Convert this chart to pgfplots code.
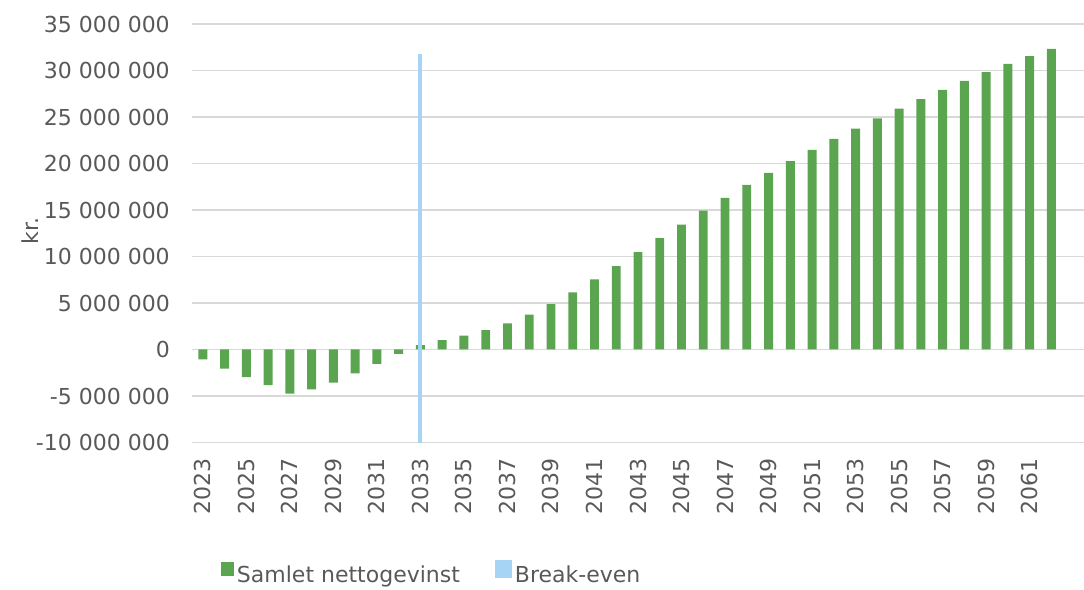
\documentclass[border=0pt]{standalone}
\usepackage{pgfplots}
\pgfplotsset{compat=1.18}
\usepackage{fontspec}
\setmainfont{DejaVu Sans}

\definecolor{bargreen}{RGB}{91,165,81}
\definecolor{beblue}{RGB}{165,212,245}
\definecolor{txtgray}{RGB}{89,89,89}
\definecolor{gridgray}{RGB}{217,217,217}

\begin{document}
\begin{tikzpicture}
\fontsize{22}{26}\selectfont
\begin{axis}[
  at={(192pt,146.5pt)}, anchor=south west,
  scale only axis,
  width=892pt, height=418.5pt,
  xmin=2022.5, xmax=2063.5,
  ymin=-10000000, ymax=35000000,
  ytick={-10000000,-5000000,...,35000000},
  xtick={2023,2025,...,2061},
  scaled y ticks=false,
  axis line style={draw=none},
  major tick length=0pt,
  ymajorgrids,
  major grid style={draw=gridgray, line width=1.8pt},
  ticklabel style={font=\fontsize{22}{26}\selectfont, text=txtgray, inner sep=0pt},
  xticklabel style={rotate=90, anchor=east,
    /pgf/number format/.cd, 1000 sep={}, assume math mode=true},
  xticklabel shift=16pt,
  yticklabel style={anchor=east,
    /pgf/number format/.cd, fixed, precision=0, 1000 sep={\ }, assume math mode=true},
  yticklabel shift=22pt,
  ylabel={kr.},
  ylabel style={at={(rel axis cs:-0.1816,0.505)}, rotate=0, anchor=center,
    inner sep=0pt, font=\fontsize{22}{26}\selectfont, text=txtgray},
  legend columns=2,
  legend style={draw=none, fill=none, inner sep=0pt, outer sep=0pt,
    at={(rel axis cs:0.0325,-0.3434)}, anchor=south west,
    font=\fontsize{22}{26}\selectfont, text=txtgray,
    nodes={inner sep=0pt},
    /tikz/every odd column/.append style={column sep=3pt},
    /tikz/every even column/.append style={column sep=35pt}},
  clip=false,
]
\addplot[ybar, bar width=0.41, fill=bargreen, draw=none,
  legend image code/.code={\fill[bargreen] (0pt,0pt) rectangle (13pt,14pt);}]
  table[x=year, y=value] {
year value
2023 -1050000
2024 -2050000
2025 -2980000
2026 -3840000
2027 -4740000
2028 -4300000
2029 -3550000
2030 -2580000
2031 -1550000
2032 -470000
2033 460000
2034 1010000
2035 1500000
2036 2090000
2037 2800000
2038 3760000
2039 4880000
2040 6130000
2041 7530000
2042 8970000
2043 10470000
2044 11980000
2045 13440000
2046 14920000
2047 16300000
2048 17700000
2049 19000000
2050 20260000
2051 21470000
2052 22660000
2053 23760000
2054 24840000
2055 25910000
2056 26920000
2057 27920000
2058 28890000
2059 29830000
2060 30720000
2061 31550000
2062 32330000
};
\addlegendentry{Samlet nettogevinst}
\addplot[draw=beblue, line width=4pt,
  legend image code/.code={\fill[beblue] (0pt,0pt) rectangle (13pt,14pt);}]
  coordinates {(2033,-10000000) (2033,31800000)};
\addlegendentry{Break-even}
\end{axis}
\pgfresetboundingbox
\path (0pt,0pt) rectangle (1084pt,589pt);
\end{tikzpicture}
\end{document}
